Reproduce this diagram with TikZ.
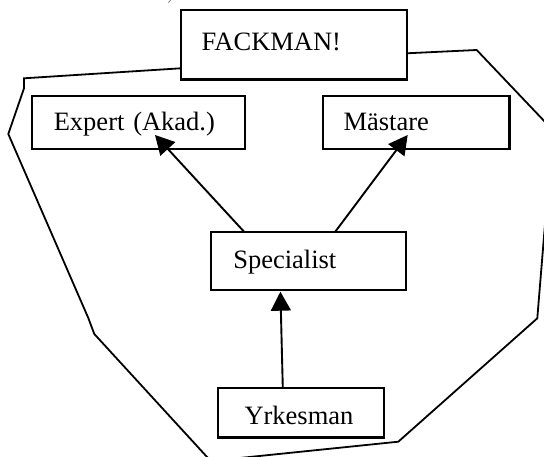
\documentclass[tikz,border=0pt]{standalone}
\usepackage{fontspec}
\setmainfont{Liberation Serif}
\usetikzlibrary{arrows.meta}
\begin{document}
\begin{tikzpicture}[x=1pt,y=-1pt,
  box/.style={draw, line width=2.2pt, fill=white, rectangle, outer sep=0pt,
    inner ysep=0pt, align=left, anchor=north west,
    font=\fontsize{26.5}{30}\selectfont},
  link/.style={line width=1.9pt, -{Triangle[length=19pt,width=20pt]}},
  hull/.style={line width=1.8pt, line join=miter}]

% canvas
\path[use as bounding box, fill=white] (0,0) rectangle (544,457);
\clip (0,0) rectangle (544,457);

% boxes
\node[box, inner xsep=21pt, text width=184pt, text height=41pt, text depth=28.5pt]
  (fack) at (180.7,10) {FACKMAN!};
\node[box, inner xsep=21.5pt, text width=169.7pt, text height=35pt, text depth=17.7pt]
  (expert) at (32.3,96) {Expert (Akad.)};
\node[box, inner xsep=20.8pt, text width=145.1pt, text height=35pt, text depth=17.7pt]
  (mast) at (322.7,96) {Mästare};
\node[box, inner xsep=22.3pt, text width=150.1pt, text height=36pt, text depth=21.7pt]
  (spec) at (211,232.3) {Specialist};
\node[box, inner xsep=26.2pt, text width=113.3pt, text height=36pt, text depth=13.5pt]
  (yrk) at (218.3,388) {Yrkesman};

% arrows between levels
\draw[link] ([xshift=33.6pt]spec.north west) -- ([xshift=122.7pt,yshift=13.7pt]expert.south west);
\draw[link] ([xshift=123.8pt]spec.north west) -- ([xshift=85pt,yshift=13.7pt]mast.south west);
\draw[link] ([xshift=64.5pt]yrk.north west) -- ([xshift=69.4pt,yshift=-1.7pt]spec.south west);

% enclosing outline, starting and ending at the FACKMAN box
\draw[hull] ([yshift=11.2pt]fack.south west) -- (24,78.3) -- (24,88.3) -- (8.3,134)
  -- (88.3,318) -- (94.3,334) -- (210.7,461) -- (398.3,441.7) -- (537.3,318.3)
  -- (552.7,130) -- (476.7,50) -- ([yshift=26.2pt]fack.south east);

% small stray mark at the top edge
\draw[gray, line width=0.8pt] (171,-0.5) -- (168.5,2.7);
\end{tikzpicture}
\end{document}
